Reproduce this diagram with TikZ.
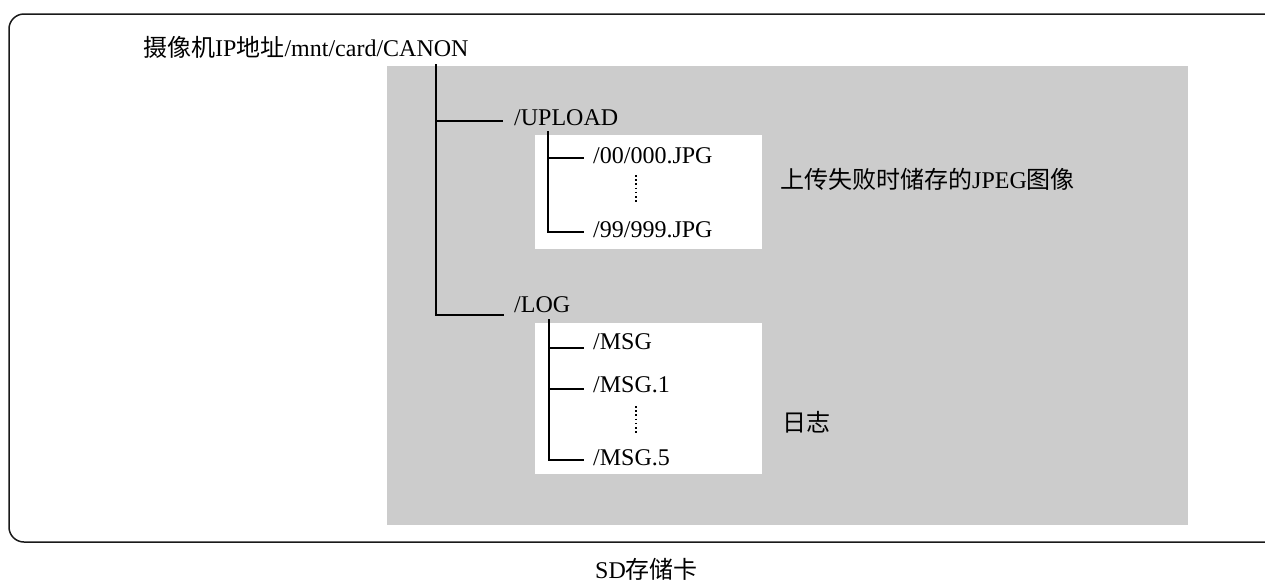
\documentclass[tikz,border=0pt]{standalone}
\usepackage{fontspec}
\setmainfont{Liberation Serif}
\newfontfamily\cjk{Noto Sans CJK SC}
\definecolor{cardgray}{HTML}{CCCCCC}
\begin{document}
\begin{tikzpicture}[x=1pt,y=-1pt,
  lbl/.style={inner sep=0pt,anchor=base west,font=\fontsize{24}{28}\selectfont},
  tree/.style={line width=1.8pt,black},
  vdots/.style={line width=1.8pt,black,dash pattern=on 1.6pt off 2.6pt}]
\useasboundingbox (0,0) rectangle (1265,582);
\begin{scope}
\clip (0,0) rectangle (1265,582);
\draw[line width=1.5pt, rounded corners=15pt, black!90] (9,14) rectangle (1320,542);
\end{scope}
\fill[cardgray] (387,66) rectangle (1188,525);
\fill[white] (535,135) rectangle (762,249);
\fill[white] (535,323) rectangle (762,474);
% labels
\node[lbl] (root) at (143,56) {{\cjk 摄像机}IP{\cjk 地址}/mnt/card/CANON};
\node[lbl] (upload) at (514,125) {/UPLOAD};
\node[lbl] (f00) at (593,163) {/00/000.JPG};
\node[lbl] (f99) at (593,237) {/99/999.JPG};
\node[lbl] (log) at (514,312) {/LOG};
\node[lbl] (msg) at (593,349) {/MSG};
\node[lbl] (msg1) at (593,392) {/MSG.1};
\node[lbl] (msg5) at (593,465) {/MSG.5};
\node[lbl] (desc1) at (780,188) {{\cjk 上传失败时储存的}JPEG{\cjk 图像}};
\node[lbl] (desc2) at (782,431) {\cjk 日志};
\node[lbl] (caption) at (595,578) {SD{\cjk 存储卡}};
% tree
\coordinate (t0) at (436,64);
\draw[tree] (t0) |- ([xshift=-11pt,yshift=4pt]upload.base west);
\draw[tree] (t0) |- ([xshift=-10pt,yshift=-3pt]log.base west);
\coordinate (u0) at (548,131);
\draw[tree] (u0) |- ([xshift=-9pt,yshift=5pt]f00.base west);
\draw[tree] (u0) |- ([xshift=-9pt,yshift=5pt]f99.base west);
\coordinate (l0) at (549,319);
\draw[tree] (l0) |- ([xshift=-9pt,yshift=1pt]msg.base west);
\draw[tree] (l0) |- ([xshift=-9pt,yshift=3pt]msg1.base west);
\draw[tree] (l0) |- ([xshift=-9pt,yshift=5pt]msg5.base west);
% dots
\coordinate (d1a) at (636,175);
\coordinate (d1b) at (636,203);
\draw[vdots] (d1a) -- (d1b);
\coordinate (d2a) at (636,406);
\coordinate (d2b) at (636,433);
\draw[vdots] (d2a) -- (d2b);
\end{tikzpicture}
\end{document}
